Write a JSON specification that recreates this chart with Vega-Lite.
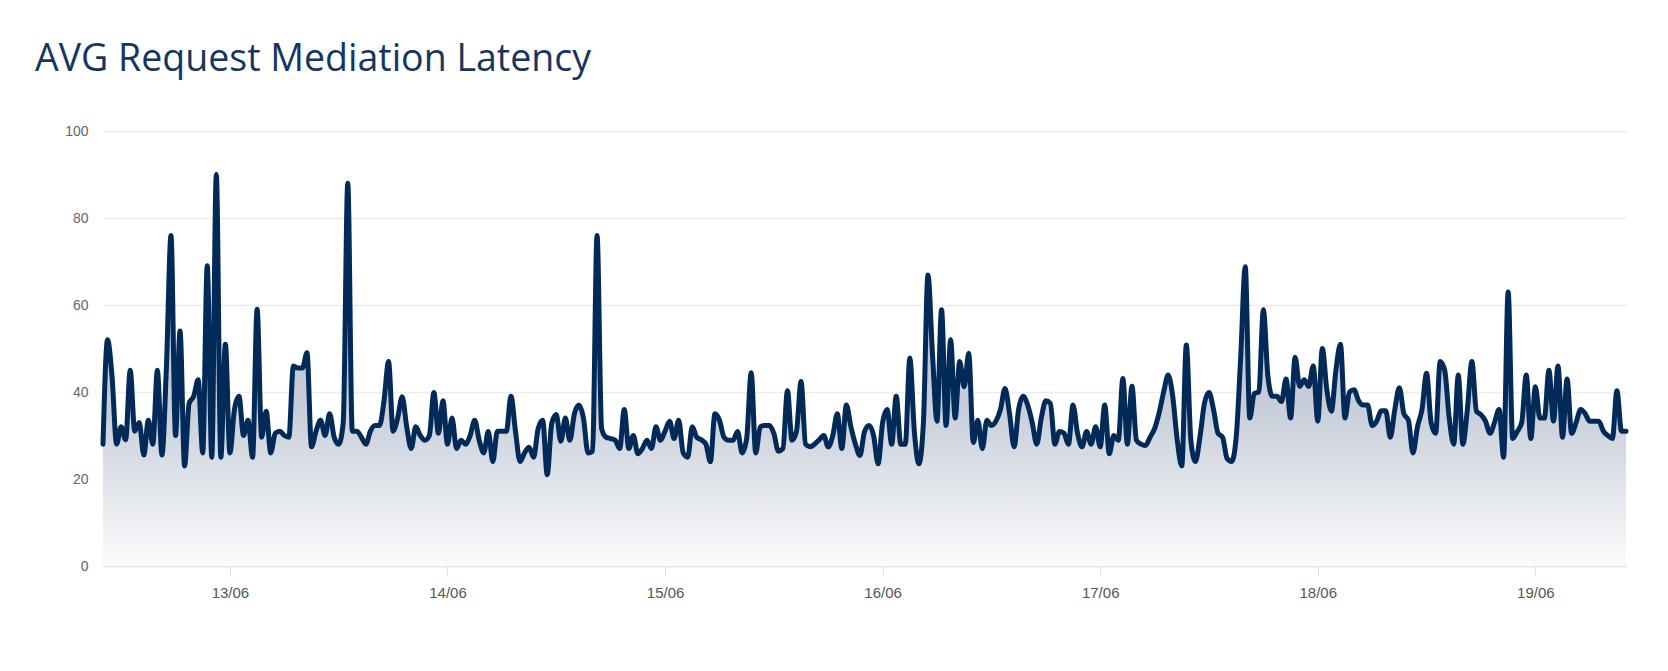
{
  "$schema": "https://vega.github.io/schema/vega-lite/v6.json",
  "width": 1523,
  "height": 435,
  "autosize": {"type": "none"},
  "padding": {"left": 103, "top": 131, "right": 42, "bottom": 105},
  "background": "#ffffff",
  "title": {
    "text": "AVG Request Mediation Latency",
    "font": "Open Sans",
    "fontSize": 37.5,
    "fontWeight": 500,
    "color": "#17365f",
    "anchor": "start",
    "frame": "group",
    "baseline": "alphabetic",
    "dx": -68,
    "offset": 16
  },
  "config": {
    "view": {"stroke": null},
    "axis": {"labelFont": "Liberation Sans", "labelColor": "#555555"}
  },
  "data": {
    "values": [
      {"t":"2023-06-12T10:00","v":28},{"t":"2023-06-12T10:30","v":52},{"t":"2023-06-12T11:00","v":43.5},{"t":"2023-06-12T11:30","v":28},{"t":"2023-06-12T12:00","v":32},{"t":"2023-06-12T12:30","v":29},{"t":"2023-06-12T13:00","v":45},{"t":"2023-06-12T13:30","v":31},{"t":"2023-06-12T14:00","v":33},{"t":"2023-06-12T14:30","v":25.5},
      {"t":"2023-06-12T15:00","v":33.5},{"t":"2023-06-12T15:30","v":28},{"t":"2023-06-12T16:00","v":45},{"t":"2023-06-12T16:30","v":25.5},{"t":"2023-06-12T17:00","v":46},{"t":"2023-06-12T17:30","v":76},{"t":"2023-06-12T18:00","v":30},{"t":"2023-06-12T18:30","v":54},{"t":"2023-06-12T19:00","v":23},{"t":"2023-06-12T19:30","v":37.4},
      {"t":"2023-06-12T20:00","v":39},{"t":"2023-06-12T20:30","v":42.8},{"t":"2023-06-12T21:00","v":26},{"t":"2023-06-12T21:30","v":69},{"t":"2023-06-12T22:00","v":25},{"t":"2023-06-12T22:30","v":90},{"t":"2023-06-12T23:00","v":25},{"t":"2023-06-12T23:30","v":51},
      {"t":"2023-06-13T00:00","v":26},{"t":"2023-06-13T00:30","v":36},{"t":"2023-06-13T01:00","v":39},{"t":"2023-06-13T01:30","v":30},{"t":"2023-06-13T02:00","v":33.5},{"t":"2023-06-13T02:30","v":25},{"t":"2023-06-13T03:00","v":59},{"t":"2023-06-13T03:30","v":29.6},{"t":"2023-06-13T04:00","v":35.6},{"t":"2023-06-13T04:30","v":26},
      {"t":"2023-06-13T05:00","v":30.5},{"t":"2023-06-13T05:30","v":31},{"t":"2023-06-13T06:00","v":30},{"t":"2023-06-13T06:30","v":29.6},{"t":"2023-06-13T07:00","v":46},{"t":"2023-06-13T07:30","v":45.5},{"t":"2023-06-13T08:00","v":45.5},{"t":"2023-06-13T08:30","v":49},{"t":"2023-06-13T09:00","v":27.4},{"t":"2023-06-13T09:30","v":31},
      {"t":"2023-06-13T10:00","v":33.5},{"t":"2023-06-13T10:30","v":30},{"t":"2023-06-13T11:00","v":35},{"t":"2023-06-13T11:30","v":29.6},{"t":"2023-06-13T12:00","v":28},{"t":"2023-06-13T12:30","v":33},{"t":"2023-06-13T13:00","v":88},{"t":"2023-06-13T13:30","v":31},{"t":"2023-06-13T14:00","v":31},{"t":"2023-06-13T14:30","v":29.6},
      {"t":"2023-06-13T15:00","v":28},{"t":"2023-06-13T15:30","v":31},{"t":"2023-06-13T16:00","v":32.3},{"t":"2023-06-13T16:30","v":32.3},{"t":"2023-06-13T17:00","v":38},{"t":"2023-06-13T17:30","v":47},{"t":"2023-06-13T18:00","v":31},{"t":"2023-06-13T18:30","v":34},{"t":"2023-06-13T19:00","v":38.9},{"t":"2023-06-13T19:30","v":32},
      {"t":"2023-06-13T20:00","v":27},{"t":"2023-06-13T20:30","v":32},{"t":"2023-06-13T21:00","v":30},{"t":"2023-06-13T21:30","v":28.9},{"t":"2023-06-13T22:00","v":30},{"t":"2023-06-13T22:30","v":39.9},{"t":"2023-06-13T23:00","v":30.5},{"t":"2023-06-13T23:30","v":38},
      {"t":"2023-06-14T00:00","v":28},{"t":"2023-06-14T00:30","v":34},{"t":"2023-06-14T01:00","v":27},{"t":"2023-06-14T01:30","v":28.9},{"t":"2023-06-14T02:00","v":28},{"t":"2023-06-14T02:30","v":30},{"t":"2023-06-14T03:00","v":33.5},{"t":"2023-06-14T03:30","v":28.9},{"t":"2023-06-14T04:00","v":26},{"t":"2023-06-14T04:30","v":30.9},
      {"t":"2023-06-14T05:00","v":24},{"t":"2023-06-14T05:30","v":31},{"t":"2023-06-14T06:00","v":31},{"t":"2023-06-14T06:30","v":31},{"t":"2023-06-14T07:00","v":39},{"t":"2023-06-14T07:30","v":31},{"t":"2023-06-14T08:00","v":24},{"t":"2023-06-14T08:30","v":26},{"t":"2023-06-14T09:00","v":27.3},{"t":"2023-06-14T09:30","v":25},
      {"t":"2023-06-14T10:00","v":31.6},{"t":"2023-06-14T10:30","v":33.5},{"t":"2023-06-14T11:00","v":21},{"t":"2023-06-14T11:30","v":32.8},{"t":"2023-06-14T12:00","v":34.8},{"t":"2023-06-14T12:30","v":28.7},{"t":"2023-06-14T13:00","v":34},{"t":"2023-06-14T13:30","v":28.9},{"t":"2023-06-14T14:00","v":35},{"t":"2023-06-14T14:30","v":37},
      {"t":"2023-06-14T15:00","v":34},{"t":"2023-06-14T15:30","v":26},{"t":"2023-06-14T16:00","v":26.4},{"t":"2023-06-14T16:30","v":76},{"t":"2023-06-14T17:00","v":31.6},{"t":"2023-06-14T17:30","v":29.6},{"t":"2023-06-14T18:00","v":29.3},{"t":"2023-06-14T18:30","v":28.9},{"t":"2023-06-14T19:00","v":27},{"t":"2023-06-14T19:30","v":36},
      {"t":"2023-06-14T20:00","v":27},{"t":"2023-06-14T20:30","v":30},{"t":"2023-06-14T21:00","v":25.8},{"t":"2023-06-14T21:30","v":27},{"t":"2023-06-14T22:00","v":28.9},{"t":"2023-06-14T22:30","v":27},{"t":"2023-06-14T23:00","v":32},{"t":"2023-06-14T23:30","v":28.9},
      {"t":"2023-06-15T00:00","v":31},{"t":"2023-06-15T00:30","v":33.3},{"t":"2023-06-15T01:00","v":29.3},{"t":"2023-06-15T01:30","v":33.5},{"t":"2023-06-15T02:00","v":26},{"t":"2023-06-15T02:30","v":25},{"t":"2023-06-15T03:00","v":32},{"t":"2023-06-15T03:30","v":29.6},{"t":"2023-06-15T04:00","v":29},{"t":"2023-06-15T04:30","v":28},
      {"t":"2023-06-15T05:00","v":24},{"t":"2023-06-15T05:30","v":35},{"t":"2023-06-15T06:00","v":33.5},{"t":"2023-06-15T06:30","v":29.6},{"t":"2023-06-15T07:00","v":28.9},{"t":"2023-06-15T07:30","v":28.9},{"t":"2023-06-15T08:00","v":30.9},{"t":"2023-06-15T08:30","v":26},{"t":"2023-06-15T09:00","v":29.3},{"t":"2023-06-15T09:30","v":44.4},
      {"t":"2023-06-15T10:00","v":26},{"t":"2023-06-15T10:30","v":32},{"t":"2023-06-15T11:00","v":32.3},{"t":"2023-06-15T11:30","v":32.3},{"t":"2023-06-15T12:00","v":30.5},{"t":"2023-06-15T12:30","v":26.4},{"t":"2023-06-15T13:00","v":27},{"t":"2023-06-15T13:30","v":40.3},{"t":"2023-06-15T14:00","v":28.9},{"t":"2023-06-15T14:30","v":31},
      {"t":"2023-06-15T15:00","v":42.4},{"t":"2023-06-15T15:30","v":28},{"t":"2023-06-15T16:00","v":27.4},{"t":"2023-06-15T16:30","v":28},{"t":"2023-06-15T17:00","v":29},{"t":"2023-06-15T17:30","v":30},{"t":"2023-06-15T18:00","v":27.4},{"t":"2023-06-15T18:30","v":30},{"t":"2023-06-15T19:00","v":35},{"t":"2023-06-15T19:30","v":27},
      {"t":"2023-06-15T20:00","v":37},{"t":"2023-06-15T20:30","v":32},{"t":"2023-06-15T21:00","v":28},{"t":"2023-06-15T21:30","v":25.4},{"t":"2023-06-15T22:00","v":30.9},{"t":"2023-06-15T22:30","v":32.3},{"t":"2023-06-15T23:00","v":30},{"t":"2023-06-15T23:30","v":23.5},
      {"t":"2023-06-16T00:00","v":33},{"t":"2023-06-16T00:30","v":36},{"t":"2023-06-16T01:00","v":28},{"t":"2023-06-16T01:30","v":39},{"t":"2023-06-16T02:00","v":28},{"t":"2023-06-16T02:30","v":28},{"t":"2023-06-16T03:00","v":47.8},{"t":"2023-06-16T03:30","v":30.9},{"t":"2023-06-16T04:00","v":23.5},{"t":"2023-06-16T04:30","v":33},
      {"t":"2023-06-16T05:00","v":66.9},{"t":"2023-06-16T05:30","v":48.7},{"t":"2023-06-16T06:00","v":33.3},{"t":"2023-06-16T06:30","v":58.9},{"t":"2023-06-16T07:00","v":32.3},{"t":"2023-06-16T07:30","v":52},{"t":"2023-06-16T08:00","v":34},{"t":"2023-06-16T08:30","v":47},{"t":"2023-06-16T09:00","v":41.2},{"t":"2023-06-16T09:30","v":48.9},
      {"t":"2023-06-16T10:00","v":28.4},{"t":"2023-06-16T10:30","v":33.5},{"t":"2023-06-16T11:00","v":27},{"t":"2023-06-16T11:30","v":33.5},{"t":"2023-06-16T12:00","v":32.3},{"t":"2023-06-16T12:30","v":33.3},{"t":"2023-06-16T13:00","v":36},{"t":"2023-06-16T13:30","v":40.8},{"t":"2023-06-16T14:00","v":35},{"t":"2023-06-16T14:30","v":27.4},
      {"t":"2023-06-16T15:00","v":36},{"t":"2023-06-16T15:30","v":39},{"t":"2023-06-16T16:00","v":37},{"t":"2023-06-16T16:30","v":33},{"t":"2023-06-16T17:00","v":28},{"t":"2023-06-16T17:30","v":34},{"t":"2023-06-16T18:00","v":38},{"t":"2023-06-16T18:30","v":37.4},{"t":"2023-06-16T19:00","v":28},{"t":"2023-06-16T19:30","v":30.9},
      {"t":"2023-06-16T20:00","v":30.5},{"t":"2023-06-16T20:30","v":28},{"t":"2023-06-16T21:00","v":37},{"t":"2023-06-16T21:30","v":30.5},{"t":"2023-06-16T22:00","v":27.4},{"t":"2023-06-16T22:30","v":30.9},{"t":"2023-06-16T23:00","v":28},{"t":"2023-06-16T23:30","v":32},
      {"t":"2023-06-17T00:00","v":27.4},{"t":"2023-06-17T00:30","v":37},{"t":"2023-06-17T01:00","v":25.8},{"t":"2023-06-17T01:30","v":30},{"t":"2023-06-17T02:00","v":28.9},{"t":"2023-06-17T02:30","v":43.1},{"t":"2023-06-17T03:00","v":28},{"t":"2023-06-17T03:30","v":41.3},{"t":"2023-06-17T04:00","v":28.9},{"t":"2023-06-17T04:30","v":28},
      {"t":"2023-06-17T05:00","v":27.7},{"t":"2023-06-17T05:30","v":29.6},{"t":"2023-06-17T06:00","v":31.6},{"t":"2023-06-17T06:30","v":35.2},{"t":"2023-06-17T07:00","v":40},{"t":"2023-06-17T07:30","v":43.9},{"t":"2023-06-17T08:00","v":39},{"t":"2023-06-17T08:30","v":28.9},{"t":"2023-06-17T09:00","v":23},{"t":"2023-06-17T09:30","v":50.8},
      {"t":"2023-06-17T10:00","v":28.9},{"t":"2023-06-17T10:30","v":24},{"t":"2023-06-17T11:00","v":29.6},{"t":"2023-06-17T11:30","v":37.4},{"t":"2023-06-17T12:00","v":39.9},{"t":"2023-06-17T12:30","v":36},{"t":"2023-06-17T13:00","v":30.5},{"t":"2023-06-17T13:30","v":29.6},{"t":"2023-06-17T14:00","v":24.7},{"t":"2023-06-17T14:30","v":24},
      {"t":"2023-06-17T15:00","v":29.6},{"t":"2023-06-17T15:30","v":48.1},{"t":"2023-06-17T16:00","v":68.8},{"t":"2023-06-17T16:30","v":34},{"t":"2023-06-17T17:00","v":39.7},{"t":"2023-06-17T17:30","v":40},{"t":"2023-06-17T18:00","v":58.9},{"t":"2023-06-17T18:30","v":43.6},{"t":"2023-06-17T19:00","v":39},{"t":"2023-06-17T19:30","v":39},
      {"t":"2023-06-17T20:00","v":37.8},{"t":"2023-06-17T20:30","v":43},{"t":"2023-06-17T21:00","v":34},{"t":"2023-06-17T21:30","v":48},{"t":"2023-06-17T22:00","v":41.3},{"t":"2023-06-17T22:30","v":42.8},{"t":"2023-06-17T23:00","v":41.3},{"t":"2023-06-17T23:30","v":46},
      {"t":"2023-06-18T00:00","v":33.3},{"t":"2023-06-18T00:30","v":50},{"t":"2023-06-18T01:00","v":40.5},{"t":"2023-06-18T01:30","v":35.6},{"t":"2023-06-18T02:00","v":45},{"t":"2023-06-18T02:30","v":51},{"t":"2023-06-18T03:00","v":34},{"t":"2023-06-18T03:30","v":40},{"t":"2023-06-18T04:00","v":40.5},{"t":"2023-06-18T04:30","v":38},
      {"t":"2023-06-18T05:00","v":37},{"t":"2023-06-18T05:30","v":37},{"t":"2023-06-18T06:00","v":32.3},{"t":"2023-06-18T06:30","v":33.3},{"t":"2023-06-18T07:00","v":35.7},{"t":"2023-06-18T07:30","v":35.7},{"t":"2023-06-18T08:00","v":29.6},{"t":"2023-06-18T08:30","v":36},{"t":"2023-06-18T09:00","v":41},{"t":"2023-06-18T09:30","v":35},
      {"t":"2023-06-18T10:00","v":33.5},{"t":"2023-06-18T10:30","v":26},{"t":"2023-06-18T11:00","v":32},{"t":"2023-06-18T11:30","v":36},{"t":"2023-06-18T12:00","v":44.3},{"t":"2023-06-18T12:30","v":33},{"t":"2023-06-18T13:00","v":30.5},{"t":"2023-06-18T13:30","v":47},{"t":"2023-06-18T14:00","v":45},{"t":"2023-06-18T14:30","v":34},
      {"t":"2023-06-18T15:00","v":28},{"t":"2023-06-18T15:30","v":43.9},{"t":"2023-06-18T16:00","v":28},{"t":"2023-06-18T16:30","v":36},{"t":"2023-06-18T17:00","v":47},{"t":"2023-06-18T17:30","v":35.6},{"t":"2023-06-18T18:00","v":34.8},{"t":"2023-06-18T18:30","v":33.3},{"t":"2023-06-18T19:00","v":30.5},{"t":"2023-06-18T19:30","v":33},
      {"t":"2023-06-18T20:00","v":36},{"t":"2023-06-18T20:30","v":25},{"t":"2023-06-18T21:00","v":63},{"t":"2023-06-18T21:30","v":29.3},{"t":"2023-06-18T22:00","v":30.9},{"t":"2023-06-18T22:30","v":33},{"t":"2023-06-18T23:00","v":43.9},{"t":"2023-06-18T23:30","v":29.3},
      {"t":"2023-06-19T00:00","v":41.2},{"t":"2023-06-19T00:30","v":34},{"t":"2023-06-19T01:00","v":34},{"t":"2023-06-19T01:30","v":45},{"t":"2023-06-19T02:00","v":33.3},{"t":"2023-06-19T02:30","v":46},{"t":"2023-06-19T03:00","v":29.6},{"t":"2023-06-19T03:30","v":43},{"t":"2023-06-19T04:00","v":30.5},{"t":"2023-06-19T04:30","v":33},
      {"t":"2023-06-19T05:00","v":36},{"t":"2023-06-19T05:30","v":35},{"t":"2023-06-19T06:00","v":33.3},{"t":"2023-06-19T06:30","v":33.3},{"t":"2023-06-19T07:00","v":33.3},{"t":"2023-06-19T07:30","v":31},{"t":"2023-06-19T08:00","v":30},{"t":"2023-06-19T08:30","v":29.3},{"t":"2023-06-19T09:00","v":40.3},{"t":"2023-06-19T09:30","v":31},
      {"t":"2023-06-19T10:00","v":31}
    ]
  },
  "encoding": {
    "x": {
      "field": "t",
      "type": "temporal",
      "title": null,
      "scale": {"domain": [{"year": 2023, "month": 6, "date": 12, "hours": 10}, {"year": 2023, "month": 6, "date": 19, "hours": 10}]},
      "axis": {
        "format": "%d/%m",
        "tickCount": {"interval": "day", "step": 1},
        "grid": false,
        "domainColor": "#e3e3e3",
        "domainWidth": 1.5,
        "tickColor": "#dddddd",
        "tickSize": 9,
        "tickWidth": 1,
        "labelFontSize": 15,
        "labelPadding": 10,
        "labelColor": "#555555"
      }
    },
    "y": {
      "field": "v",
      "type": "quantitative",
      "title": null,
      "scale": {"domain": [0, 100], "nice": false},
      "axis": {
        "values": [0, 20, 40, 60, 80, 100],
        "domain": false,
        "ticks": false,
        "gridColor": "#ececec",
        "gridWidth": 1.5,
        "labelFontSize": 14,
        "labelPadding": 15,
        "labelColor": "#666666"
      }
    }
  },
  "layer": [
    {
      "mark": {
        "type": "area",
        "interpolate": "monotone",
        "color": {
          "gradient": "linear",
          "x1": 0, "y1": 0, "x2": 0, "y2": 1,
          "stops": [
            {"offset": 0, "color": "#a3b0c2"},
            {"offset": 0.6, "color": "#c8cfda"},
            {"offset": 1, "color": "#fbfbfc"}
          ]
        }
      }
    },
    {
      "mark": {
        "type": "line",
        "interpolate": "monotone",
        "color": "#022a58",
        "strokeWidth": 5,
        "strokeJoin": "round",
        "strokeCap": "round"
      }
    }
  ]
}
